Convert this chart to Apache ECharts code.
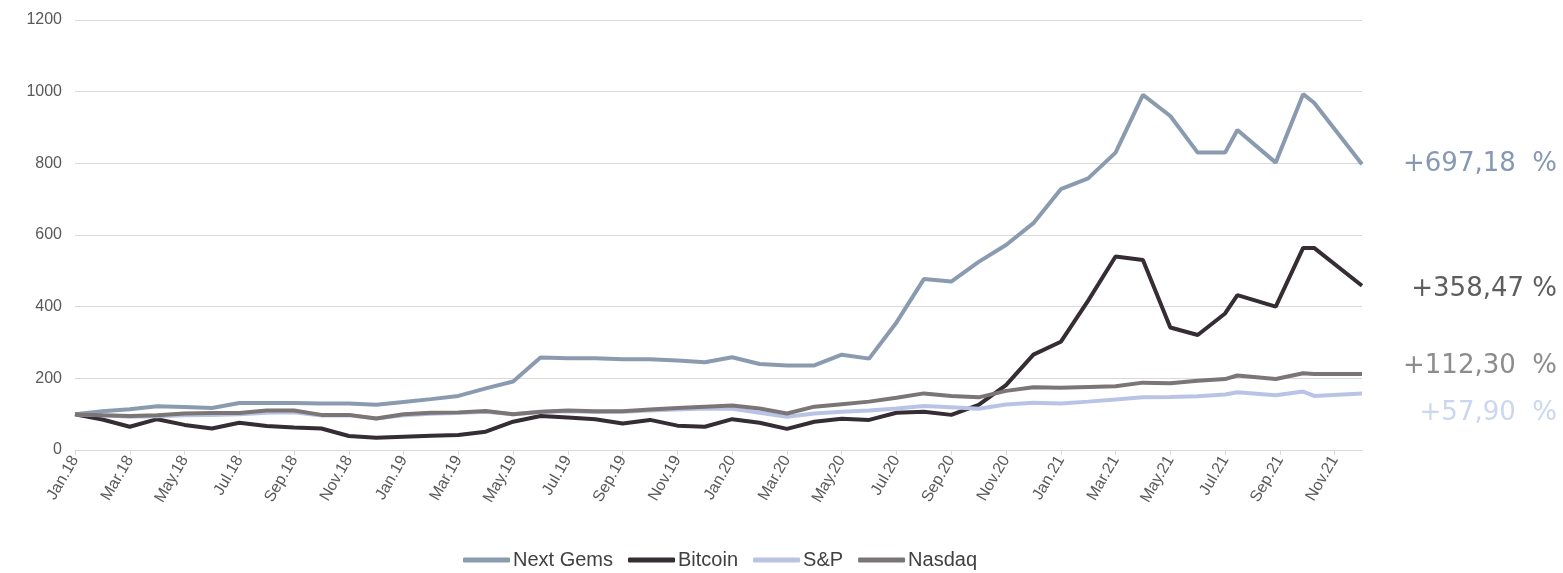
<!DOCTYPE html>
<html>
<head>
    <title>Next Gems vs Bitcoin, S&amp;P, Nasdaq</title>
    <script src="https://cdn.jsdelivr.net/npm/echarts@6/dist/echarts.min.js"></script>
    <meta charset="utf-8">
    <style>
        html, body { margin: 0; padding: 0; background: #fff; }
        #chart { width: 1563px; height: 573px; }
    </style>
</head>
<body>
<div id="chart"></div>
<script type="text/javascript">
    // month index from Jan.18 (0) to Dec.21 (47); a few late points fall between months
    var xPos = [0, 1, 2, 3, 4, 5, 6, 7, 8, 9, 10, 11,
        12, 13, 14, 15, 16, 17, 18, 19, 20, 21, 22, 23,
        24, 25, 26, 27, 28, 29, 30, 31, 32, 33, 34, 35,
        36, 37, 38, 39, 40, 41, 42, 42.45, 43.85, 44.85, 45.25, 47];

    var monthNames = ['Jan', 'Feb', 'Mar', 'Apr', 'May', 'Jun', 'Jul', 'Aug', 'Sep', 'Oct', 'Nov', 'Dec'];
    var yearNames = ['18', '19', '20', '21'];

    var nextGems = [100, 108, 114, 122, 120, 117, 131, 131, 131, 130, 130, 126,
        134, 142, 151, 172, 191, 258, 256, 256, 253, 253, 250, 245,
        259, 240, 236, 236, 266, 255, 356, 477, 470, 525, 572, 633,
        728, 758, 830, 991, 932, 830, 830, 893, 802, 993, 969, 797.18];

    var bitcoin = [100, 85, 65, 86, 70, 60, 76, 67, 63, 60, 39, 34,
        37, 40, 42, 51, 79, 95, 91, 86, 74, 84, 68, 65,
        86, 76, 59, 79, 87, 84, 104, 107, 98, 126, 181, 266,
        302, 417, 540, 530, 342, 321, 381, 432, 400, 564, 564, 458.47];

    var sp = [100, 97, 93, 94, 97, 98, 100, 104, 105, 96, 97, 88,
        97, 101, 103, 107, 100, 106, 108, 106, 107, 110, 113, 116,
        115, 104, 93, 102, 107, 110, 116, 123, 119, 115, 127, 132,
        130, 135, 141, 147, 148, 150, 155, 161, 153, 163, 151, 157.9];

    var nasdaq = [100, 97, 95, 97, 102, 103, 103, 110, 110, 98, 98, 88,
        100, 104, 105, 109, 100, 107, 110, 108, 108, 113, 117, 121,
        124, 116, 102, 121, 128, 135, 146, 158, 151, 147, 165, 175,
        174, 176, 178, 188, 186, 193, 198, 208, 198, 214, 212, 212.3];

    var seriesNames = ['Next Gems', 'Bitcoin', 'S&P', 'Nasdaq'];
    var seriesColors = ['#8a9bb0', '#352d33', '#b9c3e6', '#7c7576'];
    var endLabels = ['+697,18  %', '+358,47 %', '+112,30  %', '+57,90  %'];
    var endLabelColors = ['#8798b2', '#5e5e5e', '#8c8c8c', '#cad7ee'];

    var labelTicks = [];
    for (var t = 0; t <= 46; t += 2) labelTicks.push(t);

    function pairs(values) {
        return values.map(function (v, i) { return [xPos[i], v]; });
    }

    var allValues = [nextGems, bitcoin, sp, nasdaq];

    var myChart = echarts.init(document.getElementById('chart'));

    var option = {
        animation: false,
        textStyle: { fontFamily: 'Liberation Sans, Arial, sans-serif' },
        grid: { left: 75, right: 201, top: 20, bottom: 123 },
        legend: {
            left: 463,
            top: 550,
            padding: 0,
            icon: 'roundRect',
            itemWidth: 47,
            itemHeight: 5,
            itemGap: 15,
            textStyle: { fontSize: 20, color: '#404040', padding: [0, 0, 0, -2] },
            data: seriesNames
        },
        xAxis: {
            type: 'value',
            min: 0,
            max: 47,
            interval: 2,
            splitLine: { show: false },
            axisLine: { show: true, lineStyle: { color: '#d9d9d9', width: 1 } },
            axisTick: { show: true, length: 5, customValues: labelTicks, lineStyle: { color: '#d9d9d9' } },
            axisLabel: {
                customValues: labelTicks,
                rotate: 60,
                margin: 7,
                fontSize: 16,
                color: '#595959',
                formatter: function (v) {
                    return monthNames[v % 12] + '.' + yearNames[Math.floor(v / 12)];
                }
            }
        },
        yAxis: {
            type: 'value',
            min: 0,
            max: 1200,
            interval: 200,
            axisLine: { show: false },
            axisTick: { show: false },
            axisLabel: {
                fontSize: 16,
                color: '#595959',
                margin: 13,
                formatter: function (v) { return String(v); }
            },
            splitLine: { lineStyle: { color: '#d9d9d9', width: 1 } }
        },
        graphic: endLabels.map(function (txt, i) {
            var ys = [161, 286, 363, 410];
            return {
                type: 'text',
                right: 6,
                top: ys[i] - 10,
                style: {
                    text: txt,
                    fill: endLabelColors[i],
                    font: '26px "DejaVu Sans", sans-serif'
                }
            };
        }),
        series: seriesNames.map(function (name, i) {
            return {
                name: name,
                type: 'line',
                symbol: 'none',
                data: pairs(allValues[i]),
                itemStyle: { color: seriesColors[i] },
                lineStyle: { color: seriesColors[i], width: 4 }
            };
        })
    };

    myChart.setOption(option);
</script>
</body>
</html>
